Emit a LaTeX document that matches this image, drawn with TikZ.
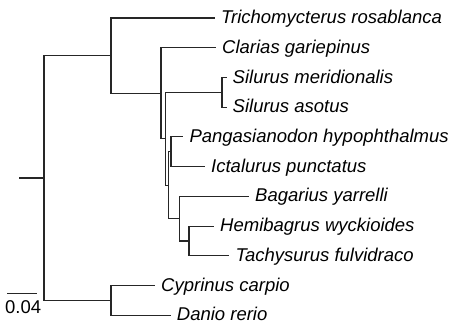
\documentclass[tikz,border=0pt]{standalone}
\usepackage{fontspec}
\setmainfont{Liberation Sans}
\usepackage{tikz}
\tikzset{
  branch/.style={draw=black!85, line width=1.1pt},
  taxon/.style={anchor=west, inner xsep=6pt, inner ysep=0pt, text height=11pt, text depth=0pt, font=\fontsize{18.5}{22}\selectfont\itshape},
  scalelabel/.style={anchor=base west, inner sep=0pt, font=\fontsize{18.5}{22}\selectfont}
}

\begin{document}
\begin{tikzpicture}[x=1pt, y=-1pt]
\useasboundingbox (0,0) rectangle (460,324);
% internal nodes
\coordinate (r0) at (19,178);
\coordinate (root) at (44,178);
\coordinate (silur) at (111,55.6);
\coordinate (clar) at (161,93.2);
\coordinate (rest) at (165.7,138.8);
\coordinate (silurus) at (222,92.3);
\coordinate (bagr) at (168.7,185.2);
\coordinate (pang) at (171,151.8);
\coordinate (bht) at (179.3,218.7);
\coordinate (ht) at (189,241);
\coordinate (cypr) at (111,300.4);
% tips
\node[taxon] (tros) at (215,18) {Trichomycterus rosablanca};
\node[taxon] (cgar) at (216,47.7) {Clarias gariepinus};
\node[taxon] (smer) at (226.5,77.5) {Silurus meridionalis};
\node[taxon] (saso) at (226.5,107.2) {Silurus asotus};
\node[taxon] (phyp) at (183.3,136.9) {Pangasianodon hypophthalmus};
\node[taxon] (ipun) at (205,166.6) {Ictalurus punctatus};
\node[taxon] (byar) at (249,196.4) {Bagarius yarrelli};
\node[taxon] (hwyc) at (214,226.1) {Hemibagrus wyckioides};
\node[taxon] (tful) at (229.3,255.8) {Tachysurus fulvidraco};
\node[taxon] (ccar) at (155,285.5) {Cyprinus carpio};
\node[taxon] (drer) at (170.7,315.3) {Danio rerio};
% branches
\draw[branch] (r0) -- (root);
\draw[branch] (root) |- (silur);
\draw[branch] (root) |- (cypr);
\draw[branch] (silur) |- (tros.west);
\draw[branch] (silur) |- (clar);
\draw[branch] (clar) |- (cgar.west);
\draw[branch] (clar) |- (rest);
\draw[branch] (rest) |- (silurus);
\draw[branch] (rest) |- (bagr);
\draw[branch] (silurus) |- (smer.west);
\draw[branch] (silurus) |- (saso.west);
\draw[branch] (bagr) |- (pang);
\draw[branch] (bagr) |- (bht);
\draw[branch] (pang) |- (phyp.west);
\draw[branch] (pang) |- (ipun.west);
\draw[branch] (bht) |- (byar.west);
\draw[branch] (bht) |- (ht);
\draw[branch] (ht) |- (hwyc.west);
\draw[branch] (ht) |- (tful.west);
\draw[branch] (cypr) |- (ccar.west);
\draw[branch] (cypr) |- (drer.west);
% scale bar
\coordinate (sb0) at (7.3,293.3);
\coordinate (sb1) at (36.7,293.3);
\draw[branch] (sb0) -- (sb1);
\node[scalelabel] (sblabel) at (5,313.3) {0.04};
\end{tikzpicture}
\end{document}
